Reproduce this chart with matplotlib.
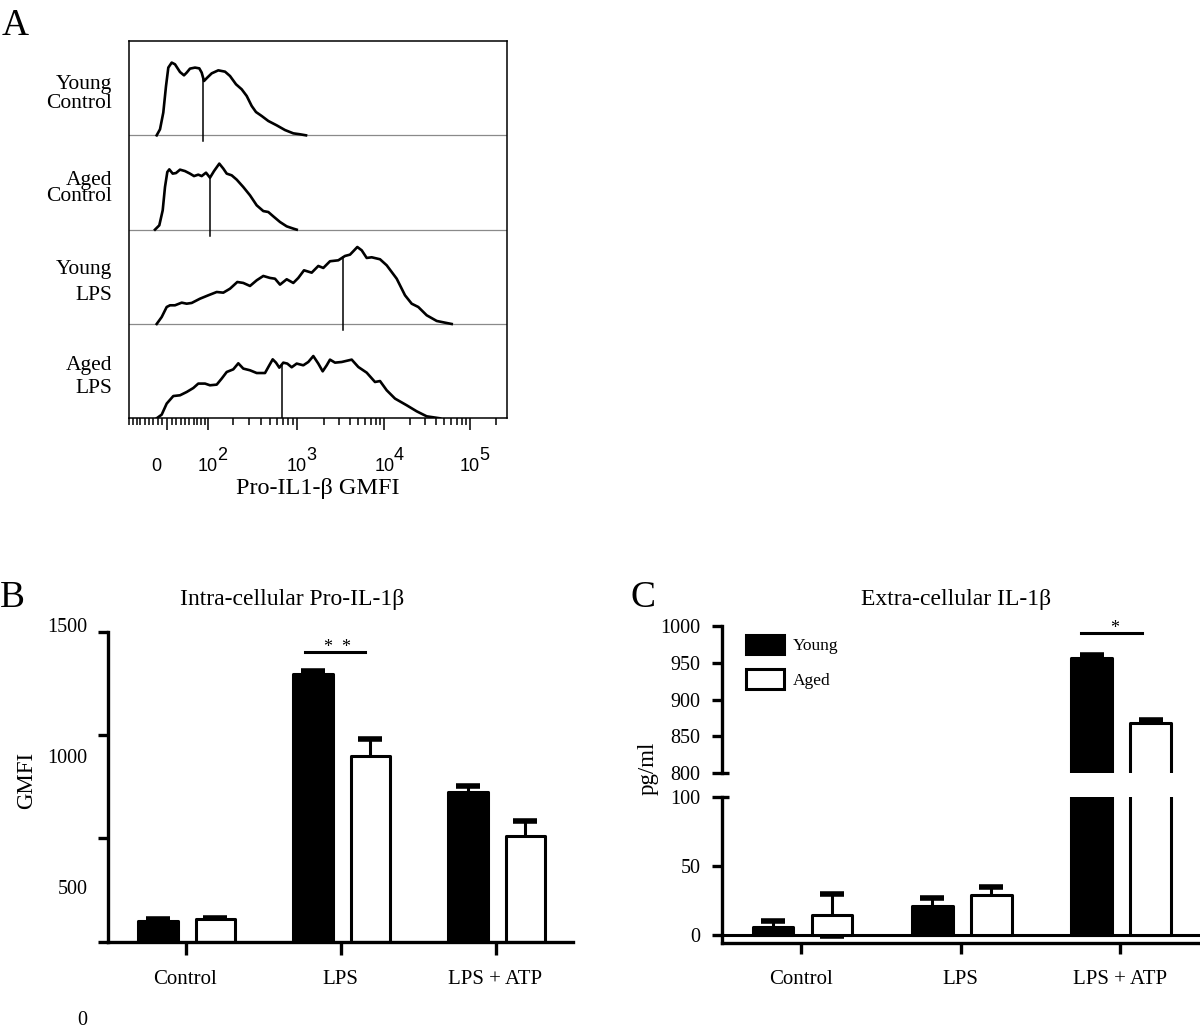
import numpy as np
import matplotlib.pyplot as plt
from matplotlib.transforms import ScaledTranslation

plt.rcParams['font.family'] = ['Liberation Serif', 'DejaVu Serif']
plt.rcParams['mathtext.default'] = 'regular'

# ---------------- panel A: stacked FACS histograms ----------------
# x in display channels (0-1024 across the plot, logicle display)
# y in counts, each lane is 100 high
rows = ['Young\nControl', 'Aged\nControl', 'Young\nLPS', 'Aged\nLPS']

yc_ch = [75.0, 84.0, 92.9, 100.2, 106.5, 115.7, 124.6, 138.2, 149.0, 156.3, 165.2,
         178.8, 190.4, 196.9, 203.2, 212.1, 224.0, 241.9, 260.1, 273.6, 289.9, 305.3,
         318.9, 332.4, 344.0, 359.5, 377.4, 400.1, 422.6, 445.1, 463.2, 479.5]
yc_cnt = [0, 6.4, 24.1, 52.0, 71.8, 77.1, 75.3, 67.1, 63.6, 66.5, 70.7,
          71.8, 71.0, 66.5, 57.6, 61.2, 65.7, 68.9, 67.5, 62.9, 54.1, 48.8,
          41.7, 31.1, 24.7, 20.5, 15.2, 10.6, 5.6, 2.1, 1.1, 0]

ac_ch = [70.4, 82.1, 91.3, 97.5, 103.8, 109.2, 118.4, 127.3, 138.2, 151.7, 165.2,
         176.1, 187.7, 196.9, 208.6, 219.4, 230.3, 244.6, 255.5, 264.7, 278.2, 291.8,
         309.6, 327.8, 345.9, 363.8, 377.4, 390.9, 409.1, 427.2, 445.1, 454.3]
ac_cnt = [0, 4.6, 20.5, 45.2, 61.1, 63.9, 59.4, 60.0, 63.6, 62.1, 59.4,
          56.8, 58.3, 56.8, 60.4, 55.1, 62.1, 70.0, 64.7, 59.4, 57.6, 53.0,
          45.2, 36.4, 25.8, 19.7, 18.7, 14.1, 8.1, 3.5, 1.1, 0]

yl_ch = [75.0, 88.6, 102.1, 111.1, 124.6, 142.8, 156.3, 169.9, 192.3, 214.8, 237.6,
         255.5, 273.6, 293.4, 309.6, 327.8, 345.9, 363.8, 382.0, 395.5, 409.1, 427.2,
         445.1, 458.6, 474.1, 494.9, 512.8, 526.4, 544.5, 567.0, 585.1, 598.7, 607.6,
         618.5, 630.4, 643.9, 657.5, 680.0, 698.1, 725.2, 747.7, 765.8, 783.7, 806.5,
         833.6, 856.0, 874.2]
yl_cnt = [0, 7.4, 18.0, 19.8, 19.8, 22.6, 21.5, 22.3, 26.8, 30.4, 33.9,
          33.2, 37.4, 44.5, 43.5, 40.3, 46.3, 50.9, 48.8, 48.0, 41.7, 47.4,
          43.5, 48.8, 56.9, 54.4, 61.5, 59.4, 66.5, 67.5, 72.1, 73.5, 77.1,
          81.6, 78.1, 70.0, 70.7, 68.6, 62.2, 48.0, 30.4, 21.5, 18.0, 9.2,
          3.2, 1.4, 0]

al_ch = [75.0, 88.6, 102.1, 120.0, 138.2, 156.3, 174.2, 187.7, 205.9, 219.4, 237.6,
         251.1, 264.7, 282.5, 296.1, 309.6, 327.8, 345.9, 368.4, 380.1, 389.3, 398.2,
         407.2, 418.0, 428.8, 440.7, 454.3, 472.2, 485.7, 499.3, 512.8, 524.7, 535.6,
         544.5, 558.1, 576.2, 603.3, 621.2, 643.9, 666.4, 680.0, 698.1, 720.6, 752.3,
         779.4, 806.5, 842.5]
al_cnt = [0, 3.9, 15.6, 23.6, 24.4, 27.9, 32.1, 36.8, 36.8, 35.0, 35.7,
          42.1, 49.1, 51.9, 58.3, 52.7, 50.9, 48.0, 48.0, 56.2, 62.5, 59.0,
          53.7, 59.0, 58.0, 54.1, 58.0, 56.2, 59.7, 66.0, 58.0, 49.8, 56.2,
          62.2, 59.0, 59.7, 62.2, 54.4, 48.4, 38.5, 39.5, 29.7, 20.9, 13.8,
          7.4, 2.1, 0]

hists = [(yc_ch, yc_cnt), (ac_ch, ac_cnt), (yl_ch, yl_cnt), (al_ch, al_cnt)]
median_ch = [201.3, 219.4, 578.9, 413.7]

major_vals = [0, 1e2, 1e3, 1e4, 1e5]
major_labels = ['0', '10', '10', '10', '10']
major_exps = ['', '2', '3', '4', '5']
minor_vals = np.concatenate([np.arange(-90, 100, 10), np.arange(200, 1000, 100),
                             np.arange(2e3, 1e4, 1e3), np.arange(2e4, 1e5, 1e4), [2e5]])

# ---------------- panels B and C: bar charts ----------------
groups = ['Control', 'LPS', 'LPS + ATP']

b_young = [102, 1296, 726]
b_young_err = [6, 14, 28]
b_aged = [108, 899, 512]
b_aged_err = [9, 85, 73]
b_tick_vals = [0, 500, 1000, 1500]

c_young = [6.0, 21.1, 957]
c_young_err = [4.4, 6.0, 4.0]
c_aged = [14.5, 29.0, 868]
c_aged_err = [15.5, 6.1, 4.4]


def logicle_value(z, k=28.6, p=1.79):
    # display position (decades from zero) -> fluorescence value
    s = np.sign(z)
    z = np.abs(z)
    return s * k * (10**z - p**2 * 10**(-z / p) + p**2 - 1)


z_grid = np.linspace(-1, 5, 4001)
v_grid = logicle_value(z_grid)


def to_channel(v):
    return 103 + 231.6 * np.interp(v, v_grid, z_grid)


def draw_bars(ax, young, young_err, aged, aged_err):
    x = np.arange(len(groups))
    out = []
    for off, vals, err, face, lab in [(-0.177, young, young_err, 'black', 'Young'),
                                      (0.193, aged, aged_err, 'white', 'Aged')]:
        ax.errorbar(x + off, vals, yerr=err, fmt='none', ecolor='black',
                    elinewidth=2.2, capsize=8.4, capthick=4, zorder=1)
        out.append(ax.bar(x + off, vals, width=0.255, color=face, edgecolor='black',
                          linewidth=2.2, joinstyle='round', zorder=2, label=lab))
    return out


fig = plt.figure(figsize=(12, 10.31), dpi=100)

# ---- A ----
axA = fig.add_axes([129 / 1200, 1 - 418.3 / 1031, 378 / 1200, 377.3 / 1031])
offsets = [300, 200, 100, 0]
label_ls = [1.0, 0.8, 1.55, 1.3]
for k, (ch, cnt) in enumerate(hists):
    base = offsets[k]
    if base > 0:
        axA.axhline(base, color='#8a8a8a', lw=0.9, zorder=1)
    axA.plot(ch, np.array(cnt) + base, color='black', lw=1.9, zorder=3)
    top = np.interp(median_ch[k], ch, cnt) + base
    axA.plot([median_ch[k], median_ch[k]], [base - 6.5, top], color='black', lw=1.1, zorder=3)
    axA.text(-0.045, base + 44, rows[k], transform=axA.get_yaxis_transform(),
             ha='right', va='center', multialignment='right', fontsize=15.5,
             linespacing=label_ls[k])

axA.set_xlim(0, 1024)
axA.set_ylim(0, 400)
for s in axA.spines.values():
    s.set_linewidth(1.1)
axA.set_xticks(to_channel(np.array(major_vals)), major_labels)
axA.set_xticks(to_channel(minor_vals), minor=True)
axA.tick_params(axis='x', which='major', length=8.6, width=1.1, pad=29.3, labelsize=13)
axA.tick_params(axis='x', which='minor', length=5, width=1.1)
axA.tick_params(axis='y', left=False, labelleft=False)
for lab in axA.get_xticklabels():
    lab.set_fontfamily('Liberation Sans')
    lab.set_verticalalignment('baseline')
zero_lab = axA.get_xticklabels()[0]
zero_lab.set_transform(zero_lab.get_transform() + ScaledTranslation(-0.11, 0, fig.dpi_scale_trans))
for v, e in zip(major_vals, major_exps):
    if e:
        axA.annotate(e, xy=(to_channel(v), 0), xycoords=('data', 'axes fraction'),
                     xytext=(6.6, -30.0), textcoords='offset points', ha='left',
                     va='baseline', fontsize=13, fontfamily='Liberation Sans',
                     annotation_clip=False)
axA.set_xlabel('Pro-IL1-β GMFI', fontsize=17.5, labelpad=2)

# ---- B ----
axB = fig.add_axes([108 / 1200, 1 - 941.7 / 1031, 465 / 1200, 309.7 / 1031])
draw_bars(axB, b_young, b_young_err, b_aged, b_aged_err)
axB.set_xlim(-0.5, 2.5)
axB.set_ylim(0, 1500)
axB.spines[['top', 'right']].set_visible(False)
axB.spines[['left', 'bottom']].set_linewidth(2.4)
axB.set_yticks(b_tick_vals)
axB.tick_params(axis='y', length=7.2, width=2.4, labelleft=False)
axB.set_xticks(range(len(groups)), groups)
axB.tick_params(axis='x', length=9.4, width=2.4, pad=11, labelsize=15)
# printed tick labels sit on a stretched scale relative to the tick marks
for v in b_tick_vals:
    axB.annotate(str(v), xy=(0, 1.2688 * v - 382.4), xycoords=('axes fraction', 'data'),
                 xytext=(-14.9, 0), textcoords='offset points', ha='right', va='center',
                 fontsize=14.5, annotation_clip=False)
axB.plot([1 - 0.23, 1 + 0.16], [1402, 1402], color='black', lw=2.2, clip_on=False)
axB.text(1 - 0.02, 1402, '*  *', ha='center', va='baseline', fontsize=13)

# ---- C (broken axis) ----
axCt = fig.add_axes([721.7 / 1200, 1 - 773.3 / 1031, 477.9 / 1200, 147.3 / 1031])
axCb = fig.add_axes([721.7 / 1200, 1 - 943.3 / 1031, 477.9 / 1200, 146.0 / 1031])
bars_c = draw_bars(axCt, c_young, c_young_err, c_aged, c_aged_err)
draw_bars(axCb, c_young, c_young_err, c_aged, c_aged_err)
axCt.set_ylim(800, 1000)
axCb.set_ylim(-6, 100)
for ax in (axCt, axCb):
    ax.set_xlim(-0.5, 2.5)
    ax.spines[['top', 'right']].set_visible(False)
    ax.spines[['left', 'bottom']].set_linewidth(2.4)
    ax.tick_params(axis='y', length=7.2, width=2.4, pad=8, labelsize=14.5)
axCt.spines['bottom'].set_visible(False)
axCt.set_yticks([800, 850, 900, 950, 1000])
axCt.tick_params(axis='x', bottom=False, labelbottom=False)
axCb.set_yticks([0, 50, 100])
axCb.set_xticks(range(len(groups)), groups)
axCb.tick_params(axis='x', length=8, width=2.4, pad=11, labelsize=15)
axCb.axhline(0, color='black', lw=2.2, zorder=1.5)
for ax, yv in [(axCt, 800), (axCb, 100)]:
    ax.plot([0, 0.016], [yv, yv], transform=ax.get_yaxis_transform(), color='black',
            lw=2.4, clip_on=False, solid_capstyle='butt')
axCt.plot([2 - 0.242, 2 + 0.139], [990, 990], color='black', lw=2.2, clip_on=False)
axCt.text(2 - 0.035, 990, '*', ha='center', va='baseline', fontsize=13)
axCt.legend(handles=bars_c, labels=['Young', 'Aged'], loc='upper left',
            bbox_to_anchor=(0.051, 0.94), frameon=False, fontsize=12.5,
            handlelength=2.2, handleheight=1.35, labelspacing=0.85,
            handletextpad=0.5, borderpad=0, borderaxespad=0)

# ---- titles, axis labels, panel letters ----
fig.text(292 / 1200, 1 - 605 / 1031, 'Intra-cellular Pro-IL-1β', ha='center', va='baseline', fontsize=17)
fig.text(956 / 1200, 1 - 605 / 1031, 'Extra-cellular IL-1β', ha='center', va='baseline', fontsize=17)
fig.text(27 / 1200, 1 - 780 / 1031, 'GMFI', rotation=90, ha='center', va='center', fontsize=16.5)
fig.text(648 / 1200, 1 - 768 / 1031, 'pg/ml', rotation=90, ha='center', va='center', fontsize=16.5)
fig.text(0.001, 1 - 35 / 1031, 'A', ha='left', va='baseline', fontsize=27)
fig.text(0.0, 1 - 607 / 1031, 'B', ha='left', va='baseline', fontsize=27)
fig.text(630 / 1200, 1 - 607 / 1031, 'C', ha='left', va='baseline', fontsize=27)

fig.savefig('out.png', dpi=100)
